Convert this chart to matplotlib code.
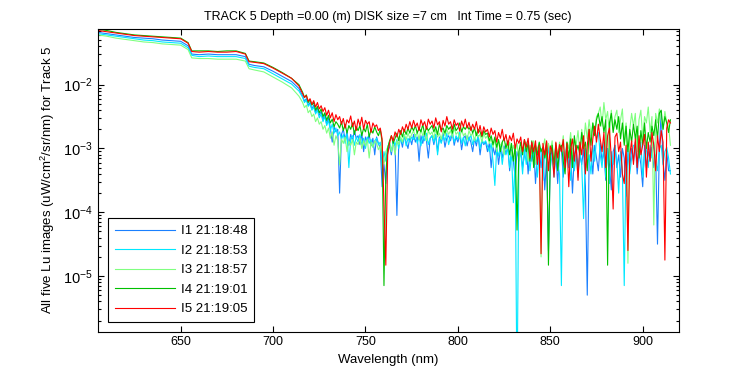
import numpy as np
from matplotlib import pyplot as plt
from matplotlib.ticker import LogLocator, NullFormatter

# Wavelength grid (nm): smooth part, then the noisy part every 1 nm
wl_smooth = [605, 610, 615, 620, 625, 630, 635, 640, 645, 650, 654, 656, 660,
             665, 670, 675, 680, 685, 687, 690, 695, 700, 705, 710, 714]
wl_noisy = list(range(716, 916))

# Lu values, stored as log10(uW/cm^2/sr/nm)
i1_smooth = [-1.18, -1.20, -1.22, -1.24, -1.26, -1.27, -1.28, -1.30, -1.31, -1.32, -1.39, -1.52, -1.53,
             -1.52, -1.53, -1.53, -1.53, -1.56, -1.68, -1.70, -1.72, -1.79, -1.87, -1.95, -2.06]
i2_smooth = [-1.20, -1.22, -1.24, -1.26, -1.28, -1.30, -1.31, -1.33, -1.34, -1.35, -1.42, -1.54, -1.56,
             -1.55, -1.56, -1.56, -1.56, -1.59, -1.71, -1.73, -1.75, -1.83, -1.91, -1.99, -2.10]
i3_smooth = [-1.22, -1.24, -1.27, -1.29, -1.31, -1.33, -1.34, -1.36, -1.37, -1.38, -1.45, -1.58, -1.59,
             -1.59, -1.60, -1.60, -1.60, -1.63, -1.75, -1.77, -1.80, -1.88, -1.96, -2.05, -2.18]
i4_smooth = [-1.13, -1.15, -1.18, -1.20, -1.22, -1.23, -1.24, -1.25, -1.26, -1.27, -1.34, -1.47, -1.47,
             -1.47, -1.48, -1.47, -1.47, -1.51, -1.63, -1.64, -1.66, -1.73, -1.81, -1.90, -2.00]
i5_smooth = [-1.15, -1.17, -1.19, -1.21, -1.23, -1.24, -1.25, -1.26, -1.27, -1.28, -1.35, -1.48, -1.49,
             -1.48, -1.49, -1.49, -1.48, -1.52, -1.64, -1.65, -1.67, -1.74, -1.82, -1.90, -2.02]

# 716..915 nm, ten values per row
i1_noisy = [-2.18, -2.26, -2.22, -2.32, -2.28, -2.38, -2.32, -2.44, -2.36, -2.48,
            -2.42, -2.55, -2.46, -2.62, -2.52, -2.68, -2.90, -2.66, -2.74, -2.70,
            -3.70, -2.78, -2.70, -2.86, -2.74, -2.95, -2.78, -2.88, -2.72, -2.84,
            -2.80, -2.94, -2.76, -3.05, -2.82, -2.90, -2.78, -2.96, -2.84, -3.10,
            -2.82, -2.92, -3.00, -3.60, -3.25, -3.55, -3.05, -2.95, -3.10, -2.88,
            -2.96, -4.05, -2.92, -2.84, -2.98, -2.80, -2.90, -3.00, -2.82, -2.94,
            -2.78, -2.90, -2.82, -3.20, -2.80, -2.92, -2.76, -2.88, -3.15, -2.84,
            -2.80, -2.94, -2.78, -3.05, -2.82, -2.90, -2.76, -2.98, -2.84, -2.80,
            -2.88, -2.76, -2.95, -2.82, -2.90, -2.78, -3.02, -2.84, -2.80, -2.96,
            -2.82, -2.90, -3.05, -2.84, -2.96, -2.80, -3.10, -2.88, -2.94, -2.90,
            -3.05, -2.92, -3.30, -2.98, -3.10, -2.94, -3.25, -3.00, -3.15, -2.96,
            -3.08, -2.98, -3.35, -3.02, -3.20, -3.45, -3.05, -3.15, -3.00, -3.30,
            -3.10, -2.95, -3.40, -3.05, -3.20, -2.98, -3.55, -3.10, -3.00, -3.30,
            -3.05, -3.65, -3.15, -4.60, -3.20, -3.00, -3.40, -3.10, -3.55, -3.05,
            -3.00, -3.45, -3.15, -2.92, -3.30, -3.05, -3.70, -3.10, -2.95, -3.35,
            -3.10, -3.25, -3.00, -3.60, -5.30, -3.20, -3.05, -3.40, -2.95, -3.15,
            -3.35, -2.92, -3.20, -3.05, -3.50, -3.00, -3.25, -3.65, -3.05, -2.95,
            -3.30, -3.10, -3.45, -3.00, -3.15, -3.75, -3.05, -3.30, -3.00, -3.20,
            -2.90, -3.40, -3.05, -3.25, -3.60, -2.95, -3.30, -3.05, -3.20, -2.98,
            -3.30, -3.10, -4.50, -3.00, -2.42, -3.20, -3.50, -3.05, -3.35, -3.35]
i2_noisy = [-2.20, -2.28, -2.24, -2.34, -2.30, -2.40, -2.35, -2.46, -2.40, -2.52,
            -2.46, -2.58, -2.50, -2.64, -2.56, -2.72, -2.62, -2.76, -2.68, -2.80,
            -2.74, -2.86, -2.78, -2.92, -2.76, -3.30, -2.84, -2.80, -2.95, -2.82,
            -2.90, -2.78, -2.94, -2.84, -3.00, -2.82, -2.92, -2.86, -2.98, -2.88,
            -2.84, -2.94, -2.90, -3.30, -3.05, -3.20, -2.98, -2.90, -3.05, -2.88,
            -2.95, -2.86, -3.00, -2.84, -2.92, -2.80, -2.96, -2.84, -2.90, -2.82,
            -2.86, -2.78, -2.92, -2.82, -2.96, -2.80, -2.88, -2.76, -2.94, -2.84,
            -2.80, -2.90, -2.78, -3.10, -2.84, -2.92, -2.80, -2.88, -2.76, -2.94,
            -2.82, -2.76, -2.90, -2.80, -2.86, -2.74, -2.92, -2.82, -2.96, -2.80,
            -2.88, -2.78, -2.94, -2.84, -2.90, -2.80, -3.00, -2.86, -2.92, -2.88,
            -2.96, -3.05, -2.92, -3.20, -3.58, -3.00, -3.12, -2.96, -3.25, -3.02,
            -3.10, -2.98, -3.30, -3.05, -3.85, -3.15, -7.00, -3.20, -3.05, -3.40,
            -3.00, -3.25, -2.92, -3.35, -3.05, -3.15, -2.98, -3.45, -3.10, -3.00,
            -3.50, -3.05, -3.20, -2.98, -3.30, -3.10, -3.45, -3.05, -3.25, -3.40,
            -5.15, -3.05, -3.30, -2.95, -3.20, -3.50, -3.00, -3.35, -3.10, -3.45,
            -3.05, -3.25, -4.10, -3.00, -3.30, -3.10, -3.40, -2.95, -3.20, -2.85,
            -2.75, -3.10, -3.30, -2.90, -3.45, -3.00, -3.55, -3.05, -3.25, -2.95,
            -3.20, -3.70, -3.05, -3.35, -5.15, -3.10, -3.00, -3.40, -3.15, -2.95,
            -2.95, -3.25, -3.05, -2.90, -3.45, -3.10, -3.00, -3.30, -2.95, -3.15,
            -2.90, -3.20, -3.35, -3.00, -2.95, -3.25, -3.05, -2.98, -3.15, -3.40]
i3_noisy = [-2.28, -2.36, -2.32, -2.44, -2.40, -2.50, -2.46, -2.58, -2.52, -2.62,
            -2.58, -2.70, -2.64, -2.76, -2.68, -2.84, -2.74, -2.95, -2.80, -2.88,
            -3.26, -2.85, -2.92, -2.82, -3.05, -2.88, -2.95, -2.86, -3.10, -2.90,
            -2.94, -2.84, -3.00, -2.88, -2.96, -2.86, -3.15, -2.90, -2.98, -2.88,
            -2.92, -3.02, -2.96, -3.10, -3.25, -3.05, -2.98, -2.90, -3.05, -2.92,
            -3.10, -2.88, -2.94, -2.82, -2.90, -2.78, -2.86, -2.76, -2.84, -2.78,
            -2.72, -2.82, -2.74, -2.86, -2.70, -2.80, -2.74, -2.88, -2.72, -2.78,
            -2.74, -2.84, -2.70, -2.82, -2.76, -2.86, -2.72, -2.80, -2.70, -2.78,
            -2.72, -2.82, -2.68, -2.78, -2.74, -2.84, -2.70, -2.80, -2.76, -2.86,
            -2.72, -2.80, -2.76, -2.88, -2.74, -2.82, -2.78, -2.90, -2.76, -2.84,
            -2.80, -2.92, -2.84, -2.98, -2.86, -3.05, -2.88, -2.96, -2.90, -3.10,
            -2.92, -3.00, -2.90, -3.12, -2.95, -3.05, -2.92, -3.20, -2.98, -3.05,
            -3.00, -2.90, -3.20, -2.95, -3.10, -2.88, -3.25, -3.00, -2.92, -4.70,
            -3.00, -2.85, -3.15, -2.92, -3.05, -2.88, -3.30, -2.95, -3.10, -2.90,
            -3.05, -2.80, -3.20, -2.90, -3.00, -2.75, -3.10, -2.85, -2.95, -2.72,
            -3.10, -2.70, -2.95, -2.60, -2.85, -2.55, -2.80, -2.60, -2.75, -2.50,
            -2.45, -2.35, -2.65, -2.28, -2.55, -2.42, -2.80, -2.40, -2.70, -2.50,
            -2.40, -2.75, -2.55, -2.38, -2.90, -2.60, -4.80, -2.70, -2.45, -2.65,
            -2.45, -3.05, -2.55, -2.40, -2.85, -2.50, -2.60, -2.35, -2.75, -2.50,
            -4.20, -2.45, -2.60, -2.38, -2.55, -2.70, -2.42, -2.60, -2.65, -2.95]
i4_noisy = [-2.12, -2.20, -2.16, -2.28, -2.24, -2.32, -2.28, -2.40, -2.34, -2.44,
            -2.38, -2.50, -2.44, -2.56, -2.48, -2.60, -2.54, -2.66, -2.58, -2.62,
            -2.68, -2.58, -2.72, -2.62, -2.76, -2.64, -2.70, -2.60, -2.78, -2.66,
            -2.72, -2.64, -2.80, -2.68, -2.74, -2.62, -2.82, -2.70, -2.76, -2.66,
            -2.74, -2.80, -2.70, -2.90, -5.15, -3.40, -3.00, -2.88, -2.80, -2.92,
            -2.84, -2.76, -2.88, -2.72, -2.82, -2.70, -2.78, -2.68, -2.76, -2.66,
            -2.72, -2.64, -2.76, -2.68, -2.74, -2.62, -2.78, -2.66, -2.72, -2.68,
            -2.64, -2.74, -2.66, -2.78, -2.62, -2.72, -2.68, -2.76, -2.64, -2.70,
            -2.66, -2.76, -2.62, -2.72, -2.68, -2.60, -2.74, -2.66, -2.70, -2.64,
            -2.70, -2.66, -2.76, -2.68, -2.80, -2.70, -2.74, -2.82, -2.72, -2.78,
            -2.76, -2.88, -2.80, -2.94, -2.82, -2.98, -2.86, -3.05, -2.90, -2.84,
            -3.00, -2.88, -3.10, -2.92, -3.20, -2.95, -4.28, -3.05, -2.90, -3.10,
            -2.86, -3.05, -2.92, -3.20, -2.88, -3.30, -2.95, -3.10, -2.90, -3.05,
            -2.98, -3.15, -2.90, -4.83, -3.10, -2.95, -3.25, -2.92, -3.35, -3.00,
            -2.95, -3.20, -3.40, -2.90, -3.15, -2.85, -3.30, -2.80, -3.05, -2.95,
            -3.10, -2.75, -3.00, -2.90, -3.35, -2.70, -2.95, -2.60, -2.80, -2.55,
            -2.45, -2.65, -2.50, -2.75, -2.55, -4.83, -2.60, -2.45, -2.75, -2.55,
            -2.70, -2.50, -2.85, -2.60, -2.95, -2.65, -3.05, -2.70, -2.90, -2.62,
            -2.85, -2.65, -3.15, -2.72, -2.95, -2.60, -3.00, -2.75, -2.90, -2.65,
            -2.80, -2.55, -2.85, -2.45, -2.40, -2.70, -2.50, -2.60, -2.75, -2.55]
i5_noisy = [-2.14, -2.20, -2.17, -2.26, -2.22, -2.31, -2.25, -2.35, -2.28, -2.38,
            -2.33, -2.42, -2.36, -2.48, -2.40, -2.52, -2.44, -2.58, -2.47, -2.55,
            -2.50, -2.62, -2.53, -2.68, -2.55, -2.60, -2.49, -2.66, -2.57, -2.72,
            -2.54, -2.64, -2.51, -2.70, -2.56, -2.62, -2.58, -2.75, -2.60, -2.66,
            -2.63, -2.72, -2.68, -2.85, -3.90, -4.83, -3.10, -2.92, -2.80, -2.88,
            -2.74, -2.82, -2.70, -2.78, -2.66, -2.74, -2.62, -2.70, -2.58, -2.68,
            -2.56, -2.66, -2.60, -2.72, -2.55, -2.64, -2.58, -2.70, -2.54, -2.62,
            -2.57, -2.68, -2.52, -2.63, -2.58, -2.74, -2.56, -2.65, -2.50, -2.62,
            -2.58, -2.70, -2.55, -2.64, -2.60, -2.73, -2.57, -2.66, -2.54, -2.68,
            -2.59, -2.72, -2.62, -2.70, -2.58, -2.76, -2.64, -2.80, -2.66, -2.74,
            -2.70, -2.82, -2.68, -2.78, -2.72, -2.90, -2.75, -2.84, -2.70, -2.88,
            -2.78, -2.95, -2.80, -2.88, -2.76, -3.00, -2.85, -2.92, -2.82, -3.05,
            -2.86, -2.98, -2.84, -3.15, -2.90, -3.05, -2.88, -3.25, -2.95, -4.65,
            -2.92, -3.10, -2.88, -3.35, -2.96, -3.05, -3.45, -2.90, -3.15, -2.94,
            -3.05, -2.86, -3.30, -2.92, -3.60, -3.00, -2.85, -3.20, -2.95, -3.50,
            -2.90, -3.10, -2.80, -3.40, -2.95, -2.70, -3.20, -2.85, -2.65, -2.90,
            -2.62, -2.85, -3.05, -2.75, -3.30, -2.80, -2.68, -3.15, -3.95, -2.82,
            -2.76, -3.05, -2.90, -3.40, -3.55, -2.95, -4.60, -3.10, -2.88, -3.25,
            -2.85, -3.30, -2.80, -3.10, -2.95, -2.78, -3.45, -2.90, -3.20, -2.75,
            -2.95, -3.35, -2.80, -3.05, -2.72, -2.90, -4.75, -2.68, -2.55, -2.60]

labels = ["I1 21:18:48", "I2 21:18:53", "I3 21:18:57", "I4 21:19:01", "I5 21:19:05"]
colors = ["#1a80ff", "#00e8ff", "#80ff80", "#00c000", "#ff0000"]

title = "TRACK 5 Depth =0.00 (m) DISK size =7 cm   Int Time = 0.75 (sec)"

plt.rcParams["font.family"] = ["Liberation Sans", "DejaVu Sans"]
plt.rcParams["mathtext.fontset"] = "custom"
plt.rcParams["mathtext.rm"] = "Liberation Sans"

wl = wl_smooth + wl_noisy
series = [i1_smooth + i1_noisy, i2_smooth + i2_noisy, i3_smooth + i3_noisy,
          i4_smooth + i4_noisy, i5_smooth + i5_noisy]

fig = plt.figure(figsize=(7.5, 3.75), dpi=100)
ax = fig.add_axes([0.13, 0.116, 0.775, 0.808])

for vals, col, lab in zip(series, colors, labels):
    ax.plot(wl, 10.0 ** np.array(vals), color=col, lw=0.8, label=lab)

ax.set_yscale("log")
ax.set_xlim(605, 919.5)
ax.set_ylim(1.35e-6, 7.6e-2)
ax.set_xticks([650, 700, 750, 800, 850, 900])
ax.yaxis.set_major_locator(LogLocator(base=10, numticks=10))
ax.yaxis.set_minor_locator(LogLocator(base=10, subs=np.arange(2, 10), numticks=20))
ax.yaxis.set_minor_formatter(NullFormatter())
ax.tick_params(which="both", direction="in", top=True, right=True, width=0.8)
ax.tick_params(axis="x", labelsize=9)
ax.tick_params(axis="y", labelsize=10.5)
ax.tick_params(which="major", length=4)
ax.tick_params(which="minor", length=2)
for sp in ax.spines.values():
    sp.set_linewidth(0.8)

ax.set_title(title, fontsize=9)
ax.set_xlabel("Wavelength (nm)", fontsize=9.5)
ax.set_ylabel("All five Lu images (uW/cm$^2$/sr/nm) for Track 5", fontsize=9.5)

leg = ax.legend(loc="lower left", bbox_to_anchor=(0.018, 0.032), borderaxespad=0,
                fontsize=9.5, fancybox=False, edgecolor="black", framealpha=1,
                handlelength=4.6, handletextpad=0.4, labelspacing=0.55, borderpad=0.5)
leg.get_frame().set_linewidth(0.8)

plt.savefig("out.png", dpi=100)
